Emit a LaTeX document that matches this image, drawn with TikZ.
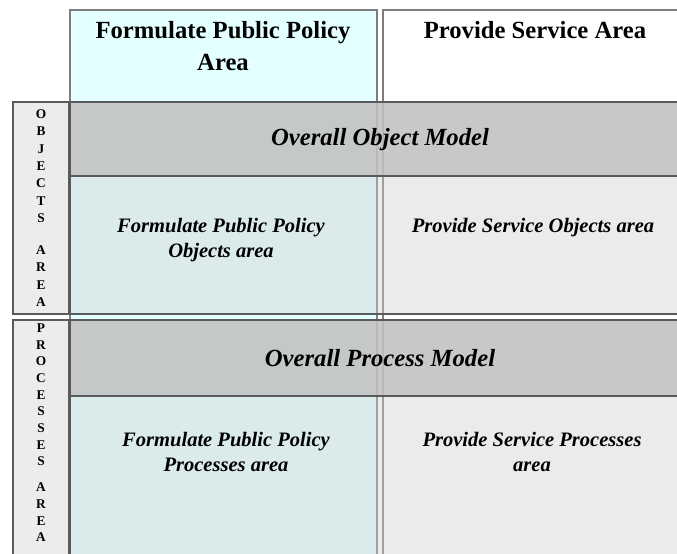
\documentclass[tikz,border=0pt]{standalone}
\usepackage{fontspec}
\setmainfont{Liberation Serif}
\usepackage{tikz}

\definecolor{headcyan}{RGB}{228,255,255}
\definecolor{rowfill}{RGB}{208,208,208}
\definecolor{bandfill}{RGB}{192,192,192}
\definecolor{sidefill}{RGB}{236,236,236}
\definecolor{rowline}{RGB}{90,90,90}
\definecolor{colline}{RGB}{125,125,125}

\begin{document}
\begin{tikzpicture}[
    x=0.75pt, y=-0.75pt,
    colbox/.style={draw=colline, line width=0.8pt},
    rowbox/.style={fill=rowfill, fill opacity=0.41, draw=rowline, draw opacity=1, line width=1pt},
    band/.style={fill=bandfill, fill opacity=0.81, draw=rowline, draw opacity=1, line width=1pt},
    sidebox/.style={fill=sidefill, draw=rowline, line width=1pt},
    headtxt/.style={font=\fontsize{18.5}{24}\selectfont\bfseries, align=center},
    bandtxt/.style={font=\fontsize{18.5}{24}\selectfont\bfseries\itshape},
    celltxt/.style={font=\fontsize{15.4}{18.75}\selectfont\bfseries\itshape, align=center},
    sidetxt/.style={font=\fontsize{10}{13}\selectfont\bfseries, align=center, inner sep=0pt, anchor=north}
]
\useasboundingbox (0,0) rectangle (677,553);

% column areas
\fill[headcyan] (70,10) rectangle (377,560);
\fill[white] (383,10) rectangle (690,560);
\draw[colbox] (70,560) |- (377,10) -- (377,560);
\draw[colbox] (383,560) |- (690,10);

% object and process rows
\draw[rowbox] (70,102) rectangle (690,314);
\draw[rowbox] (70,320) rectangle (690,560);
\draw[band] (70,102) rectangle (690,176);
\draw[band] (70,320) rectangle (690,396);

% side labels
\draw[sidebox] (13,102) rectangle (69,314);
\draw[sidebox] (13,320) rectangle (69,560);
\node[sidetxt] (objlbl) at (41,109.5) {O\\B\\J\\E\\C\\T\\S\\[11pt]A\\R\\E\\A};
\node[sidetxt, font=\fontsize{10}{12.5}\selectfont\bfseries] (proclbl) at (41,323.5)
    {P\\R\\O\\C\\E\\S\\S\\E\\S\\[7pt]A\\R\\E\\A};

% column heads
\node[headtxt] (fppHead) at (223,46) {Formulate Public Policy\\Area};
\node[headtxt] (psHead) at (535,30) {Provide Service Area};

% overall models
\node[bandtxt] (objModel) at (380,140) {Overall Object Model};
\node[bandtxt] (procModel) at (380,358) {Overall Process Model};

% cells
\node[celltxt] (fppObj) at (221,240) {Formulate Public Policy\\Objects area};
\node[celltxt] (psObj) at (533,228) {Provide Service Objects area};
\node[celltxt] (fppProc) at (226,452) {Formulate Public Policy\\Processes area};
\node[celltxt] (psProc) at (532,452) {Provide Service Processes\\area};
\end{tikzpicture}
\end{document}
